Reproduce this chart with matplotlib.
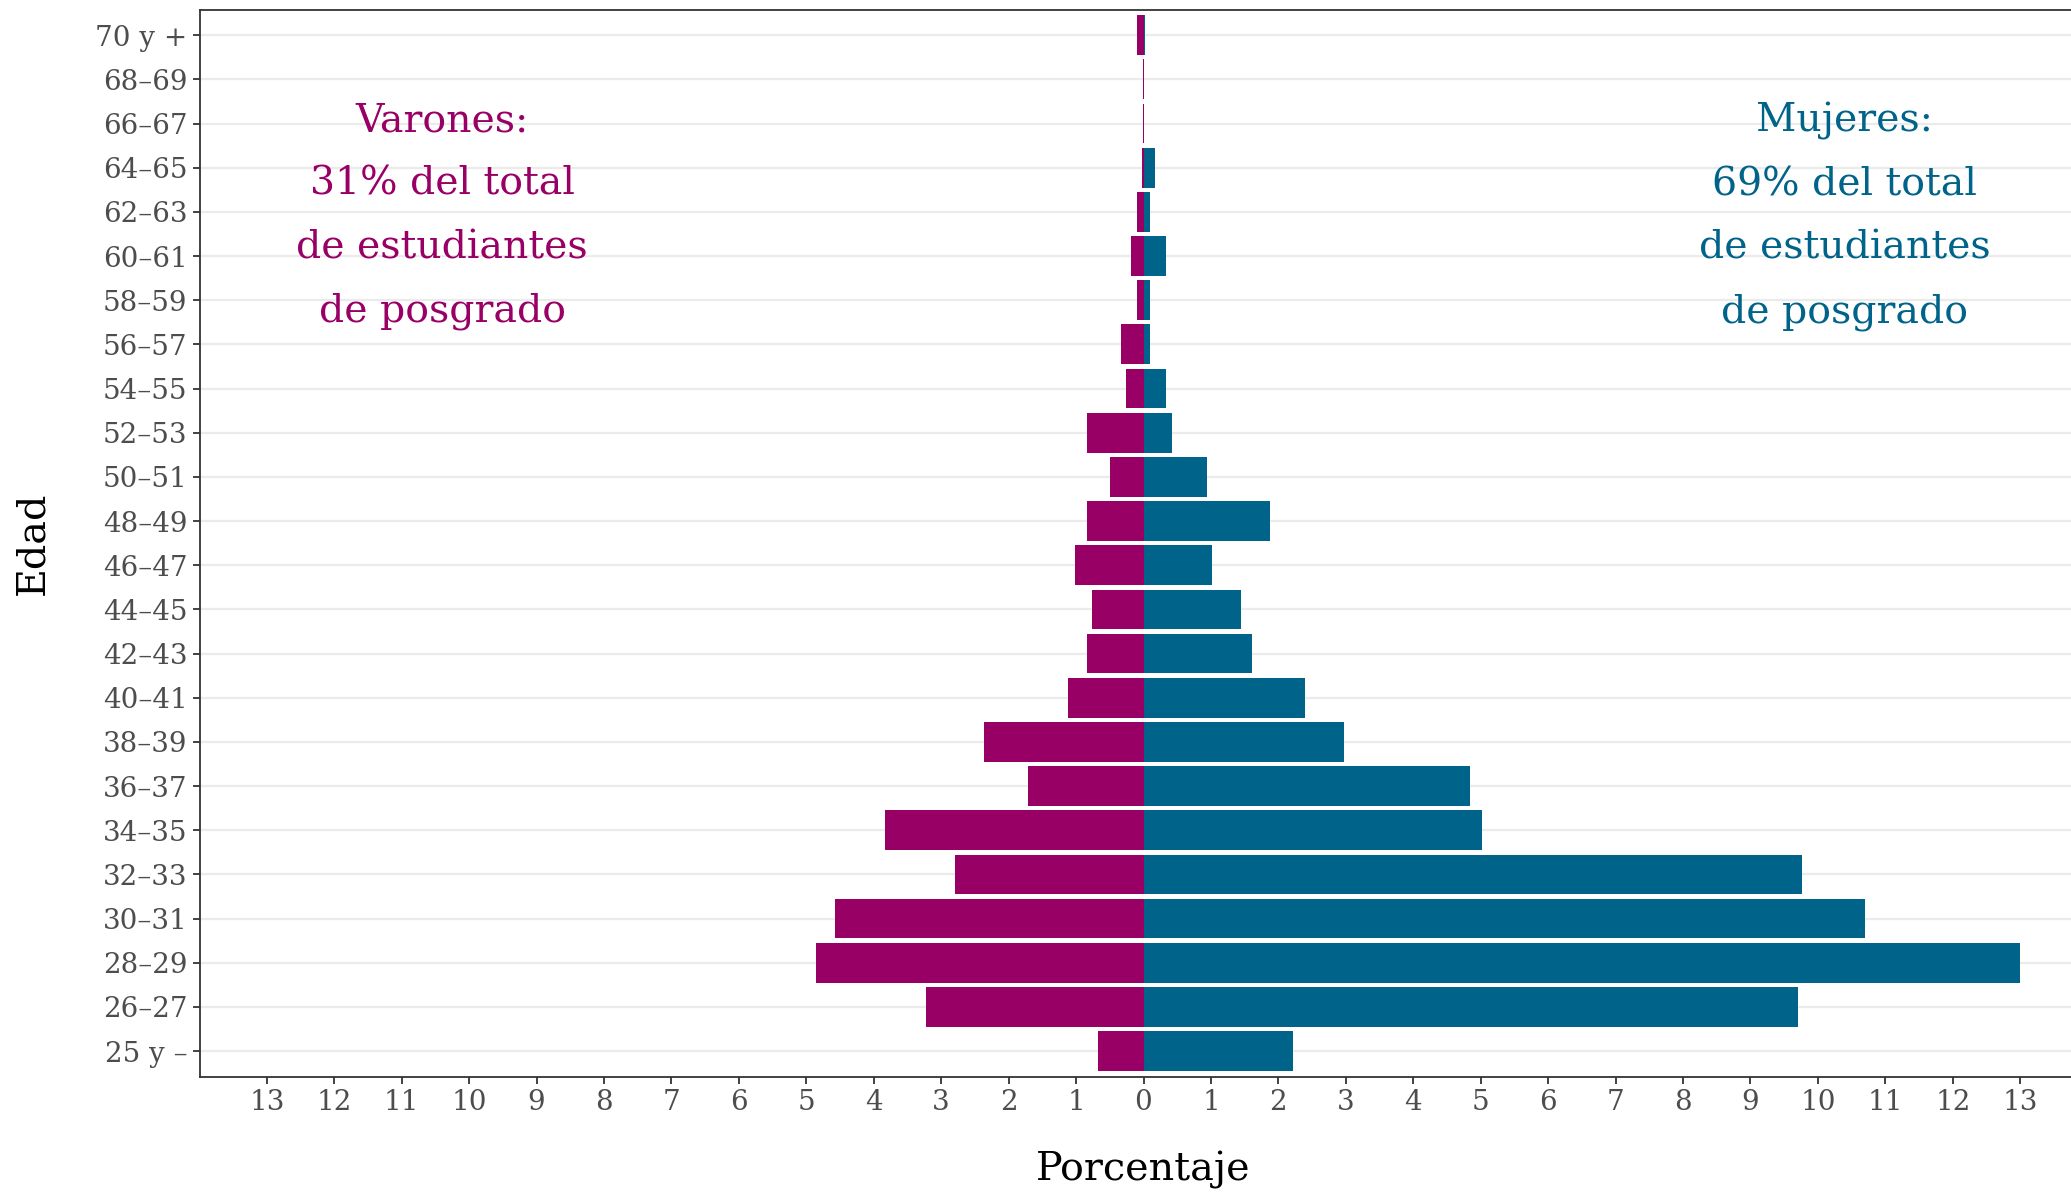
import matplotlib
matplotlib.use("Agg")
import matplotlib.pyplot as plt
import numpy as np

plt.rcParams['font.family'] = ['DejaVu Serif']

# grupos de edad, de abajo hacia arriba
edades = ['25 y –', '26–27', '28–29', '30–31', '32–33', '34–35', '36–37', '38–39',
          '40–41', '42–43', '44–45', '46–47', '48–49', '50–51', '52–53', '54–55',
          '56–57', '58–59', '60–61', '62–63', '64–65', '66–67', '68–69', '70 y +']

varones = [0.68, 3.22, 4.85, 4.58, 2.79, 3.83, 1.71, 2.37,
           1.12, 0.84, 0.76, 1.02, 0.84, 0.49, 0.84, 0.26,
           0.34, 0.09, 0.18, 0.09, 0.02, 0.01, 0.01, 0.10]
mujeres = [2.22, 9.70, 13.0, 10.70, 9.77, 5.02, 4.84, 2.98,
           2.39, 1.61, 1.45, 1.02, 1.88, 0.94, 0.43, 0.33,
           0.09, 0.09, 0.34, 0.09, 0.17, 0.0, 0.0, 0.02]

ticks_x = np.arange(-13, 14)

col_v = '#990066'
col_m = '#006389'

fig = plt.figure(figsize=(20.71, 11.95), dpi=100)
ax = fig.add_axes([200 / 2071, 118.3 / 1195, 1887 / 2071, 1066.7 / 1195])

y = np.arange(len(edades))
ax.barh(y, -np.array(varones), height=0.9, color=col_v, zorder=2)
ax.barh(y, mujeres, height=0.9, color=col_m, zorder=2)

ax.set_xlim(-13.99, 13.99)
ax.set_ylim(-0.58, len(edades) - 1 + 0.57)

ax.set_yticks(y)
ax.set_yticklabels(edades)
ax.set_xticks(ticks_x)
ax.set_xticklabels([str(abs(t)) for t in ticks_x])

ax.grid(axis='y', color='#ebebeb', linewidth=1.6, zorder=0)
ax.grid(axis='x', visible=False)
ax.set_axisbelow(True)

ax.tick_params(axis='both', length=5, width=1.3, color='#333333',
               labelcolor='#4d4d4d', labelsize=20, pad=4)
for s in ['left', 'bottom', 'top']:
    ax.spines[s].set_color('#333333')
    ax.spines[s].set_linewidth(1.3)
ax.spines['right'].set_visible(False)

ax.set_xlabel('Porcentaje', fontsize=28.5, va='center')
ax.xaxis.set_label_coords(0.5, -0.0875)
ax.set_ylabel('Edad', fontsize=28.5, va='center')
ax.yaxis.set_label_coords(-0.0885, 0.5)

ax.text(-10.4, 18.9, 'Varones:\n31% del total\nde estudiantes\nde posgrado',
        color=col_v, fontsize=28.4, ha='center', va='center', linespacing=1.91)
ax.text(10.4, 18.9, 'Mujeres:\n69% del total\nde estudiantes\nde posgrado',
        color=col_m, fontsize=28.4, ha='center', va='center', linespacing=1.91)

fig.savefig('out.png', dpi=100)
